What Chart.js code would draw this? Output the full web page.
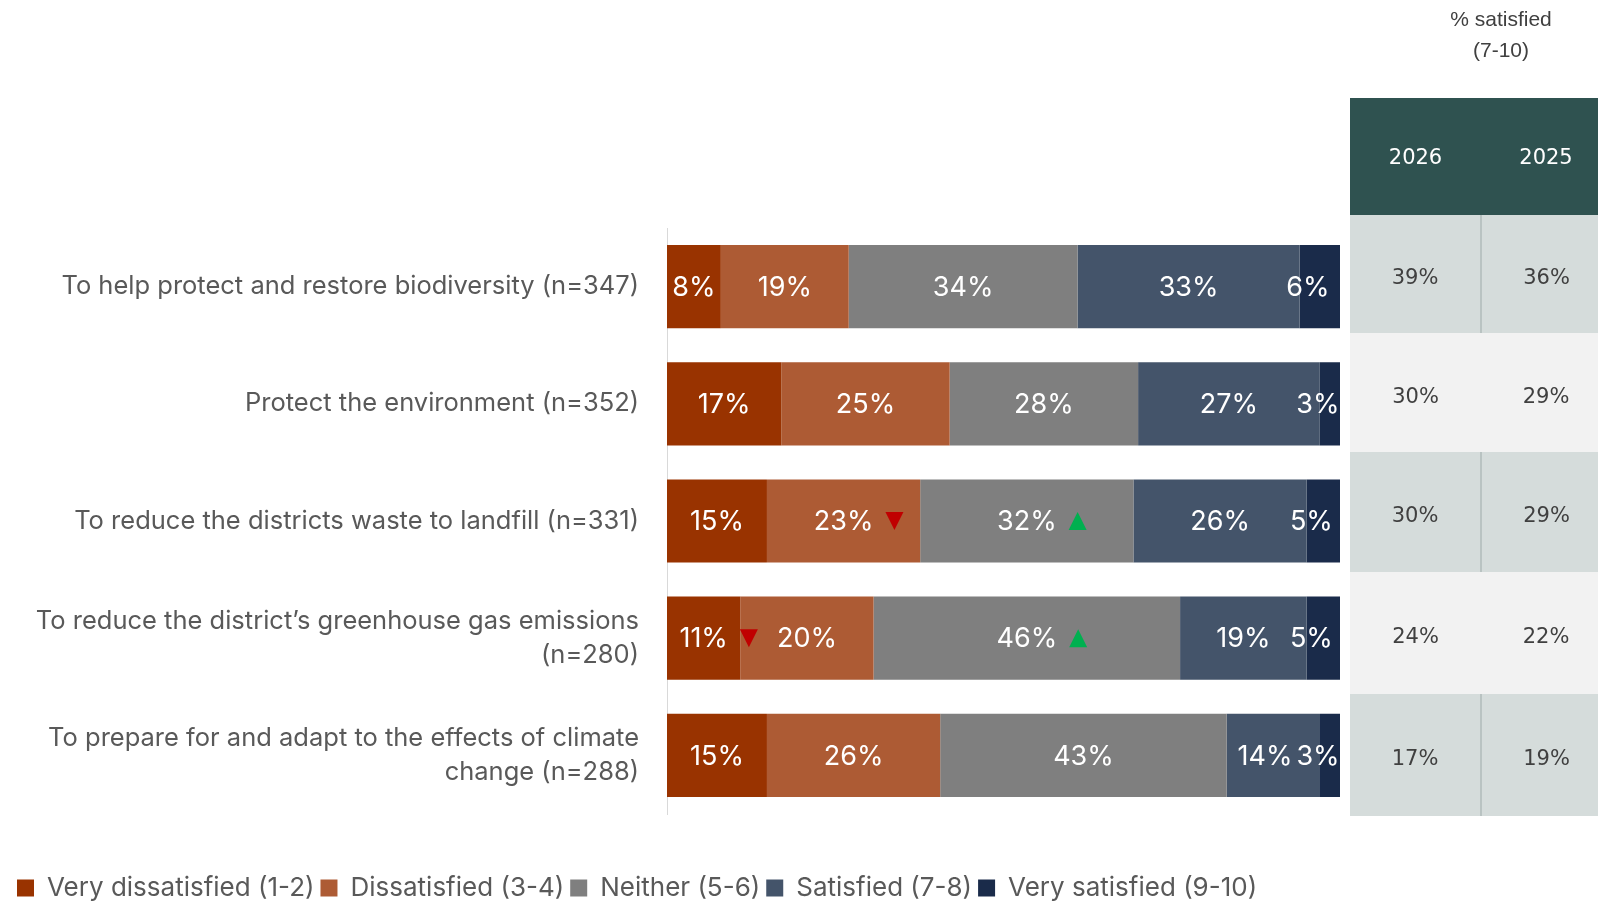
<!DOCTYPE html>
<html>
<head>
<meta charset="utf-8">
<script src="https://cdn.jsdelivr.net/npm/chart.js@4.4.1/dist/chart.umd.min.js"></script>
<style>
  html, body { margin: 0; padding: 0; background: #fff; }
  #wrap { position: relative; width: 1598px; height: 902px; overflow: hidden; }
  #chart { position: absolute; left: 0; top: 0; }
  #title { position: absolute; left: 1420px; top: 3px; width: 162px; text-align: center;
           font: 21px "Liberation Sans", Arial, sans-serif; color: #404040; line-height: 31px; }
  #satTable { position: absolute; left: 1350px; top: 98px; width: 261px; border-collapse: collapse;
              table-layout: fixed; font: 21px "DejaVu Sans", sans-serif; }
  #satTable th { background: #2f5250; color: #fff; font-weight: normal; height: 117px; padding: 0; }
  #satTable td { color: #404040; text-align: center; padding: 6px 0 0 0; }
  #satTable tr.dark td { background: #d5dcdb; }
  #satTable tr.dark td:first-child { border-right: 2px solid #b9c3c2; }
  #satTable tr.light td { background: #f2f2f2; }
</style>
</head>
<body>
<div id="wrap">
  <canvas id="chart" width="1598" height="902"></canvas>
  <div id="title">% satisfied<br>(7-10)</div>
  <table id="satTable"></table>
</div>
<script>
// categories and values
const categories = [
  'To help protect and restore biodiversity (n=347)',
  'Protect the environment (n=352)',
  'To reduce the districts waste to landfill (n=331)',
  ['To reduce the district\u2019s greenhouse gas emissions', '(n=280)'],
  ['To prepare for and adapt to the effects of climate', 'change (n=288)']
];
const veryDissatisfied = [8, 17, 15, 11, 15];
const dissatisfied     = [19, 25, 23, 20, 26];
const neither          = [34, 28, 32, 46, 43];
const satisfied        = [33, 27, 26, 19, 14];
const verySatisfied    = [6, 3, 5, 5, 3];

// significant change markers
const veryDissatisfiedSig = [null, null, null, 'down', null];
const dissatisfiedSig     = [null, null, 'down', null, null];
const neitherSig          = [null, null, 'up', 'up', null];

// % satisfied (7-10) table
const tableYears = ['2026', '2025'];
const satisfied2026 = [39, 30, 30, 24, 17];
const satisfied2025 = [36, 29, 29, 22, 19];

const rowTotals = categories.map((c, i) =>
  veryDissatisfied[i] + dissatisfied[i] + neither[i] + satisfied[i] + verySatisfied[i]);
const share = arr => arr.map((v, i) => v / rowTotals[i] * 100);

const FONT = 'Inter, "Open Sans", sans-serif';

function makeSet(label, values, color, marks) {
  return {
    label: label,
    data: share(values),
    raw: values,
    marks: marks || [],
    backgroundColor: color,
    borderWidth: 0,
    categoryPercentage: 1,
    barPercentage: 0.71
  };
}

// draws the % labels and the up/down triangles inside the bars
const barLabels = {
  id: 'barLabels',
  afterDatasetsDraw(chart) {
    const c = chart.ctx;
    const area = chart.chartArea;
    c.save();
    c.beginPath();
    c.rect(area.left, area.top, area.right - area.left, area.bottom - area.top);
    c.clip();
    c.font = '27px ' + FONT;
    c.textAlign = 'center';
    c.textBaseline = 'middle';
    const nSets = chart.data.datasets.length;
    chart.data.labels.forEach((lab, i) => {
      // work right to left so a label never runs into the one after it
      let limit = Infinity;
      for (let di = nSets - 1; di >= 0; di--) {
        const ds = chart.data.datasets[di];
        const bar = chart.getDatasetMeta(di).data[i];
        const txt = ds.raw[i] + '%';
        const w = c.measureText(txt).width;
        let cx = (bar.x + bar.base) / 2;
        if (w > bar.x - bar.base) cx -= 12;
        if (cx + w / 2 > limit - 4) cx = limit - 4 - w / 2;
        limit = cx - w / 2;
        c.fillStyle = '#ffffff';
        c.fillText(txt, cx, bar.y + 1);
        const mark = ds.marks[i];
        if (mark) {
          const tx = cx + w / 2 + 12;
          const y = bar.y;
          c.beginPath();
          if (mark === 'down') {
            c.fillStyle = '#c00000';
            c.moveTo(tx, y - 9); c.lineTo(tx + 18, y - 9); c.lineTo(tx + 9, y + 9);
          } else {
            c.fillStyle = '#00b050';
            c.moveTo(tx, y + 9); c.lineTo(tx + 18, y + 9); c.lineTo(tx + 9, y - 9);
          }
          c.closePath();
          c.fill();
        }
      }
    });
    c.restore();
  }
};

new Chart(document.getElementById('chart'), {
  type: 'bar',
  data: {
    labels: categories,
    datasets: [
      makeSet('Very dissatisfied (1-2)', veryDissatisfied, '#993300', veryDissatisfiedSig),
      makeSet('Dissatisfied (3-4)', dissatisfied, '#ad5b34', dissatisfiedSig),
      makeSet('Neither (5-6)', neither, '#7f7f7f', neitherSig),
      makeSet('Satisfied (7-8)', satisfied, '#44546a'),
      makeSet('Very satisfied (9-10)', verySatisfied, '#1a2b4a')
    ]
  },
  options: {
    indexAxis: 'y',
    responsive: false,
    animation: false,
    layout: { padding: { top: 228, right: 258, left: 11, bottom: -9 } },
    scales: {
      x: {
        stacked: true, min: 0, max: 100,
        grid: { display: false }, border: { display: false }, ticks: { display: false },
        afterFit: s => { s.height = 55; }
      },
      y: {
        stacked: true,
        grid: { display: false, drawTicks: false },
        border: { color: '#d9d9d9', width: 1 },
        ticks: { padding: 28, color: '#595959', font: { family: FONT, size: 25.5, lineHeight: 1.36 } },
        afterFit: s => { s.width = 656; }
      }
    },
    plugins: {
      legend: {
        position: 'bottom',
        align: 'start',
        labels: {
          boxWidth: 17, boxHeight: 17, padding: 6,
          color: '#595959', font: { family: FONT, size: 26 }
        }
      },
      tooltip: { enabled: false }
    }
  },
  plugins: [barLabels]
});

// build the side table from the arrays
const table = document.getElementById('satTable');
const rowHeights = [118, 119, 120, 122, 122];
let html = '<colgroup><col style="width:131px"><col style="width:130px"></colgroup><tr>';
tableYears.forEach(y => { html += '<th>' + y + '</th>'; });
html += '</tr>';
satisfied2026.forEach((v, i) => {
  html += '<tr class="' + (i % 2 === 0 ? 'dark' : 'light') + '" style="height:' + rowHeights[i] + 'px">' +
    '<td>' + v + '%</td><td>' + satisfied2025[i] + '%</td></tr>';
});
table.innerHTML = html;
</script>
</body>
</html>
